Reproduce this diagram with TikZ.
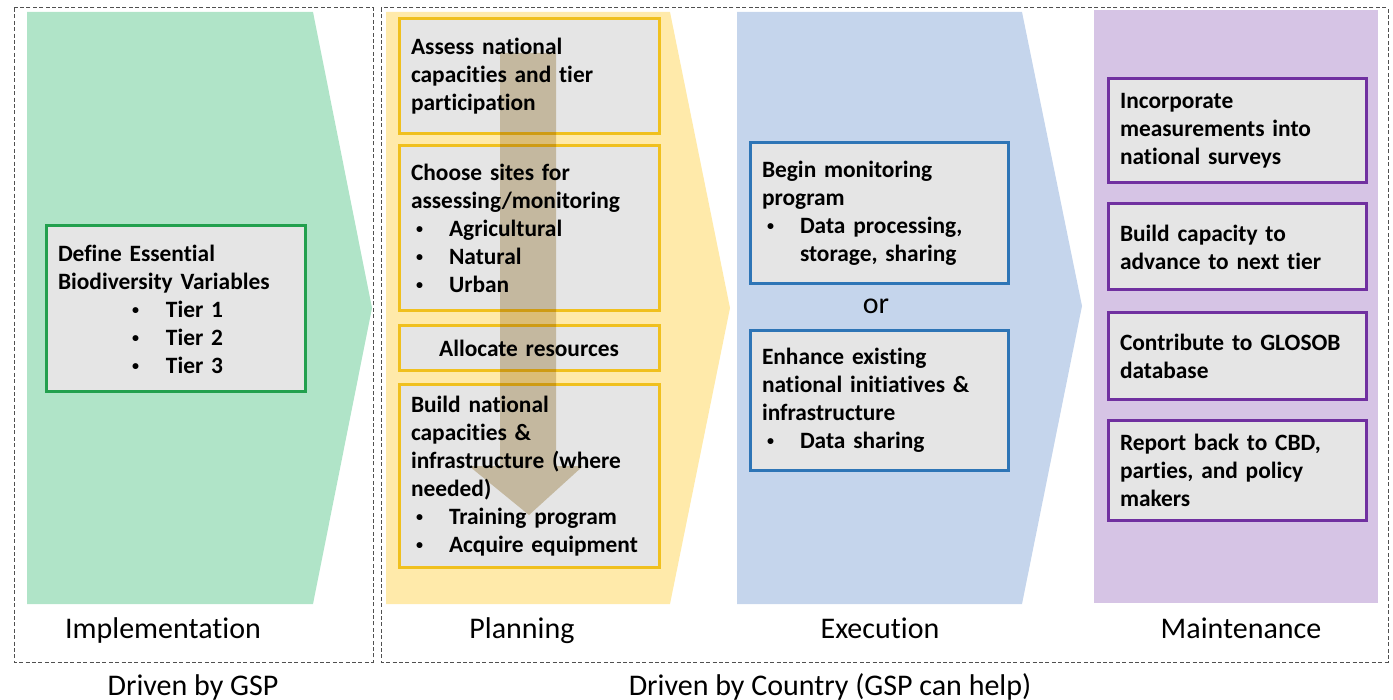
\documentclass[tikz,border=0pt]{standalone}
\usepackage{fontspec}
\setmainfont{Carlito}[Ligatures=NoCommon]
\usepackage{tikz}
\usetikzlibrary{positioning, calc, backgrounds}
\definecolor{colGreen}{RGB}{176, 228, 200}
\definecolor{colGreenLine}{RGB}{34, 160, 78}
\definecolor{colYellow}{RGB}{255, 234, 170}
\definecolor{colYellowLine}{RGB}{240, 192, 30}
\definecolor{colBlue}{RGB}{197, 213, 236}
\definecolor{colBlueLine}{RGB}{46, 117, 182}
\definecolor{colPurple}{RGB}{214, 196, 229}
\definecolor{colPurpleLine}{RGB}{112, 48, 160}
\definecolor{colBox}{RGB}{229, 229, 229}
\definecolor{colArrow}{RGB}{219, 206, 178}
\definecolor{colFrame}{RGB}{80, 80, 80}

% bullet line inside a box
\newcommand{\smallbullet}{\raisebox{0.25ex}{\scalebox{0.6}{\textbullet}}}
\newcommand{\pointitem}[1]{\hspace*{2.5pt}\makebox[16.5pt][l]{\smallbullet}#1}
\newcommand{\pointcont}[1]{\hspace*{19pt}#1}
\newcommand{\tieritem}[1]{\hspace*{37pt}\makebox[17pt][l]{\smallbullet}#1}

\tikzset{
    stepbox/.style={fill=colBox, line width=1.5pt, inner xsep=6pt, inner ysep=2pt,
        align=left, font=\fontsize{11.7}{14}\selectfont\bfseries},
    greenbox/.style={stepbox, draw=colGreenLine, text width=117.5pt},
    yellowbox/.style={stepbox, draw=colYellowLine, text width=118pt},
    bluebox/.style={stepbox, draw=colBlueLine, text width=117pt},
    purplebox/.style={stepbox, draw=colPurpleLine, text width=117pt},
    phase/.style={font=\fontsize{15}{18}\selectfont, anchor=base},
    frame/.style={draw=colFrame, line width=0.5pt, dash pattern=on 2pt off 1.2pt}
}

\begin{document}
\begin{tikzpicture}[x=0.5pt, y=-0.5pt]
    \useasboundingbox (0, 0) rectangle (1393, 700);

    % --- Dashed frames ---
    \draw[frame] (14, 8) rectangle (373, 662);
    \draw[frame] (381, 8) rectangle (1388, 662);

    % --- Phase chevrons ---
    \fill[colGreen] (27, 12) -- (313, 12) -- (372, 308) -- (313, 604) -- (27, 604) -- cycle;
    \fill[colYellow] (386, 12) -- (670, 12) -- (730, 308) -- (670, 604) -- (386, 604) -- cycle;
    \fill[colBlue] (737, 12) -- (1022, 12) -- (1082, 306) -- (1022, 604) -- (737, 604) -- cycle;
    \fill[colPurple] (1094, 10) rectangle (1378, 603);

    % --- Implementation ---
    \node[greenbox, minimum height=83pt] (ebv) at (175.5, 309) {Define Essential\\
        Biodiversity Variables\\ \tieritem{Tier 1}\\ \tieritem{Tier 2}\\ \tieritem{Tier 3}};

    % --- Planning ---
    \node[yellowbox, minimum height=57.5pt] (assess) at (529, 76.5) {Assess national\\
        capacities and tier\\ participation};
    \node[yellowbox, minimum height=82.5pt] (sites) at (529, 228.5) {Choose sites for\\
        assessing/monitoring\\ \pointitem{Agricultural}\\ \pointitem{Natural}\\ \pointitem{Urban}};
    \node[yellowbox, minimum height=22.5pt, align=center] (alloc) at (529, 348.5) {Allocate resources};
    \node[yellowbox, minimum height=91pt] (build) at (529, 476) {Build national\\
        capacities \&\\ infrastructure (where\\ needed)\\
        \pointitem{Training program}\\ \pointitem{Acquire equipment}};

    % Planning order arrow (over the boxes)
    \fill[colArrow, blend mode=multiply] (500, 53) -- (556, 53) -- (556, 466) -- (583, 466)
        -- (529, 515) -- (469, 466) -- (500, 466) -- cycle;

    % --- Execution ---
    \node[bluebox, minimum height=70.5pt] (begin) at (879, 213.5) {Begin monitoring\\
        program\\ \pointitem{Data processing,}\\ \pointcont{storage, sharing}};
    \node[phase] (or) at (876, 314) {or};
    \node[bluebox, minimum height=69.5pt] (enhance) at (879, 400.5) {Enhance existing\\
        national initiatives \&\\ infrastructure\\ \pointitem{Data sharing}};

    % --- Maintenance ---
    \node[purplebox, minimum height=52pt] (surveys) at (1237, 131) {Incorporate\\
        measurements into\\ national surveys};
    \node[purplebox, minimum height=43pt] (capacity) at (1237, 247) {Build capacity to\\
        advance to next tier};
    \node[purplebox, minimum height=43.5pt] (glosob) at (1237, 356.5) {Contribute to GLOSOB\\ database};
    \node[purplebox, minimum height=50pt] (report) at (1237, 470) {Report back to CBD,\\
        parties, and policy\\ makers};

    % --- Phase labels ---
    \node[phase] (impl) at (163, 638) {Implementation};
    \node[phase] (plan) at (522, 638) {Planning};
    \node[phase] (exec) at (880, 638) {Execution};
    \node[phase] (maint) at (1241, 638) {Maintenance};

    \node[phase] (gsp) at (193, 695) {Driven by GSP};
    \node[phase] (country) at (830, 695) {Driven by Country (GSP can help)};
\end{tikzpicture}
\end{document}
